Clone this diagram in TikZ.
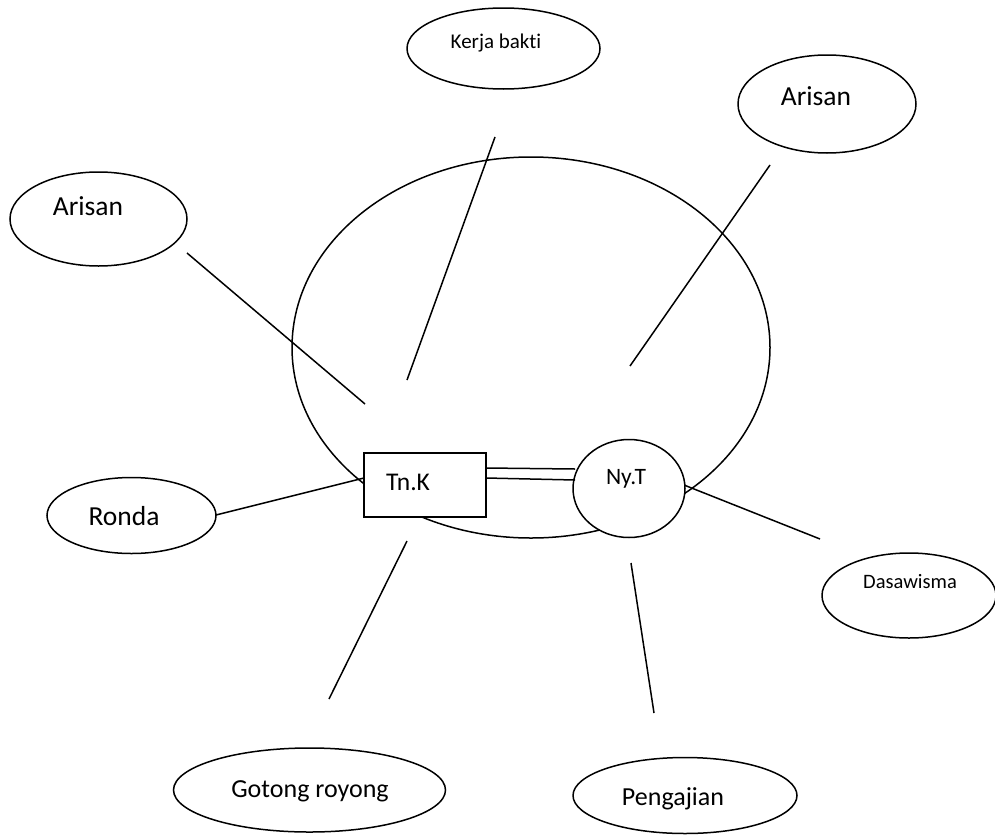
\documentclass[tikz,border=0pt]{standalone}
\usepackage{fontspec}
\setmainfont{Carlito}[Ligatures=NoCommon]
\usetikzlibrary{shapes.geometric}
\tikzset{
  bubble/.style={draw, ellipse, line width=1.5pt, inner sep=0pt, fill=white},
  boxshape/.style={draw, rectangle, line width=1.5pt, inner sep=0pt, fill=white},
  spoke/.style={line width=1.5pt},
  bigtxt/.style={anchor=base, inner sep=0pt, font=\fontsize{27.5}{33}\selectfont},
  midtxt/.style={anchor=base, inner sep=0pt, font=\fontsize{25.5}{30}\selectfont},
  nytxt/.style={anchor=base, inner sep=0pt, font=\fontsize{23.5}{28}\selectfont},
  smalltxt/.style={anchor=base, inner sep=0pt, font=\fontsize{21}{25}\selectfont},
}
\begin{document}
\begin{tikzpicture}[x=1pt, y=-1pt]
\useasboundingbox (0,0) rectangle (995,835);

% big ellipse
\node[draw, ellipse, line width=1.5pt, inner sep=0pt, minimum width=478pt, minimum height=381pt] (big) at (531,347.5) {};

% spoke end points
\coordinate (sAL) at (187,253);
\coordinate (eAL) at (365,404);
\coordinate (sK) at (495,137);
\coordinate (eK) at (407,380);
\coordinate (sAR) at (770,165);
\coordinate (eAR) at (630,366);
\coordinate (sR) at (216,515);
\coordinate (eR) at (364,478);
\coordinate (sG) at (407,541);
\coordinate (eG) at (329,699);
\coordinate (sP) at (631,563);
\coordinate (eP) at (654,713);
\coordinate (sD) at (684,485);
\coordinate (eD) at (820,539);

\draw[spoke] (sAL) -- (eAL);
\draw[spoke] (sK) -- (eK);
\draw[spoke] (sAR) -- (eAR);
\draw[spoke] (sR) -- (eR);
\draw[spoke] (sG) -- (eG);
\draw[spoke] (sP) -- (eP);
\draw[spoke] (sD) -- (eD);

% outer ellipses
\node[bubble, minimum width=193pt, minimum height=81pt] (kerja) at (503.5,48.5) {};
\node[bubble, minimum width=178pt, minimum height=98pt] (arisanR) at (827,104) {};
\node[bubble, minimum width=177pt, minimum height=94pt] (arisanL) at (98.5,219) {};
\node[bubble, minimum width=169pt, minimum height=76pt] (ronda) at (131.5,515.5) {};
\node[bubble, minimum width=272pt, minimum height=84pt] (gotong) at (309.5,790) {};
\node[bubble, minimum width=224pt, minimum height=76pt] (pengajian) at (685,795.5) {};
\node[bubble, minimum width=174pt, minimum height=85pt] (dasa) at (909,595.5) {};

% texts
\node[smalltxt] (tkerja) at (496,48) {Kerja bakti};
\node[bigtxt] (tarisanR) at (816,105) {Arisan};
\node[bigtxt] (tarisanL) at (88,215) {Arisan};
\node[bigtxt] (tronda) at (124,525) {Ronda};
\node[bigtxt, font=\fontsize{26}{31}\selectfont] (tgotong) at (310,797) {Gotong royong};
\node[bigtxt, font=\fontsize{26}{31}\selectfont] (tpeng) at (673,805) {Pengajian};
\node[smalltxt, font=\fontsize{20.5}{25}\selectfont] (tdasa) at (910,588) {Dasawisma};

% Tn.K box and Ny.T circle
\node[boxshape, minimum width=122pt, minimum height=64pt] (tnk) at (425,485) {};
\node[midtxt] (ttnk) at (408,490) {Tn.K};
\node[bubble, minimum width=112pt, minimum height=98pt] (nyt) at (629,488.5) {};
\node[nytxt] (tnyt) at (626,484) {Ny.T};

% double connection
\coordinate (d1a) at (486,468);
\coordinate (d1b) at (575,469);
\coordinate (d2a) at (486,478);
\coordinate (d2b) at (575,480);
\draw[spoke] (d1a) -- (d1b);
\draw[spoke] (d2a) -- (d2b);
\end{tikzpicture}
\end{document}
